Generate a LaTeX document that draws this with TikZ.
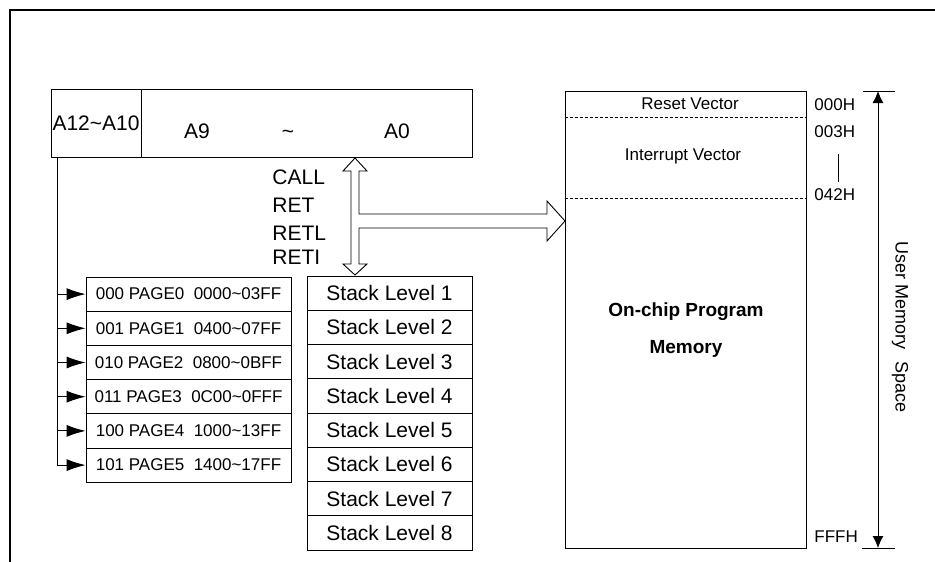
\documentclass[tikz,border=0pt]{standalone}
\usepackage{fontspec}
\setmainfont{Liberation Sans}
\usetikzlibrary{arrows.meta}

\begin{document}
\begin{tikzpicture}[x=1pt,y=-1pt,line width=0.9pt,
  big/.style={font=\fontsize{21}{24}\selectfont,inner sep=0pt},
  small/.style={font=\fontsize{17}{20}\selectfont,inner sep=0pt},
  cell/.style={draw,rectangle,inner sep=0pt,minimum width=#1,minimum height=34.2pt},
  tip/.style={-{Latex[length=19pt,width=12pt]}},
  dim/.style={{Latex[length=12pt,width=11pt]}-{Latex[length=12pt,width=11pt]}}]
\useasboundingbox (0,0) rectangle (935,562);
\draw[line width=2pt] (10,562) -- (10,10) -- (935,10);

% address register
\node[draw,big,minimum width=90pt,minimum height=68pt] (reghi) at (96,123) {A12\textasciitilde A10};
\node[draw,minimum width=331pt,minimum height=68pt,inner sep=0pt,anchor=west] (reglo) at (reghi.east) {};
\node[big] (a9) at (197,131) {A9};
\node[big] (tl) at (288,134) {\textasciitilde};
\node[big] (a0) at (397,131) {A0};

% pages
\foreach \i/\t in %
{0/000 PAGE0\ \ 0000\textasciitilde 03FF,1/001 PAGE1\ \ 0400\textasciitilde 07FF,2/010 PAGE2\ \ 0800\textasciitilde 0BFF,
 3/011 PAGE3\ \ 0C00\textasciitilde 0FFF,4/100 PAGE4\ \ 1000\textasciitilde 13FF,5/101 PAGE5\ \ 1400\textasciitilde 17FF} {
   \node[cell=205pt,small] (page\i) at (188.5,294.1+34.2*\i) {\t};
}
\coordinate (bus) at (57,157);
\draw (bus) -- (bus |- page5.west);
\foreach \i in {0,...,5} {
   \draw[tip] (bus |- page\i.west) -- (page\i.west);
}

% stack
\foreach \i in {1,...,8} {
   \node[cell=165pt,minimum height=34.25pt,big] (stack\i) at (389.5,293.1+34.25*\i-34.25) {Stack Level \i};
}
\foreach \y/\t in %
{177/CALL,205/RET,233/RETL,257/RETI} {
   \node[big,anchor=west] (op\t) at (272,\y) {\t};
}
\draw[fill=white] (355,158) -- (367,171) -- (359,171) -- (359,214) -- (547,214) -- (547,201) -- (565,221)
   -- (547,241) -- (547,228) -- (359,228) -- (359,264) -- (367,264) -- (355,275) -- (343,264)
   -- (351,264) -- (351,171) -- (343,171) -- cycle;

% program memory
\node[draw,minimum width=241pt,minimum height=457pt,inner sep=0pt] (mem) at (685.5,319.5) {};
\draw[dashed,dash pattern=on 3pt off 2pt] (mem.west |- 0,117) -- (mem.east |- 0,117);
\draw[dashed,dash pattern=on 3pt off 2pt] (mem.west |- 0,198) -- (807,198);
\node[small] (rst) at (690,104) {Reset Vector};
\node[small] (irq) at (683,156) {Interrupt Vector};
\node[font=\bfseries\fontsize{19}{37}\selectfont,align=center] (prog) at (686,330) {On-chip Program\\Memory};
\foreach \y/\t in %
{105/000H,132/003H,195/042H,537/FFFH} {
   \node[small,anchor=west] (adr\t) at (814,\y) {\t};
}
\draw (838,154) -- (838,182);

% user space
\coordinate (ustop) at (878,91);
\coordinate (usbot) at (878,548);
\draw (863,91) -- (895,91);
\draw (862,548) -- (895,548);
\draw[dim] (ustop) -- (usbot);
\node[font=\fontsize{18}{20}\selectfont,inner sep=0pt,rotate=-90] (user) at (900,327) {User Memory\hspace{0.7em}Space};
\end{tikzpicture}
\end{document}
